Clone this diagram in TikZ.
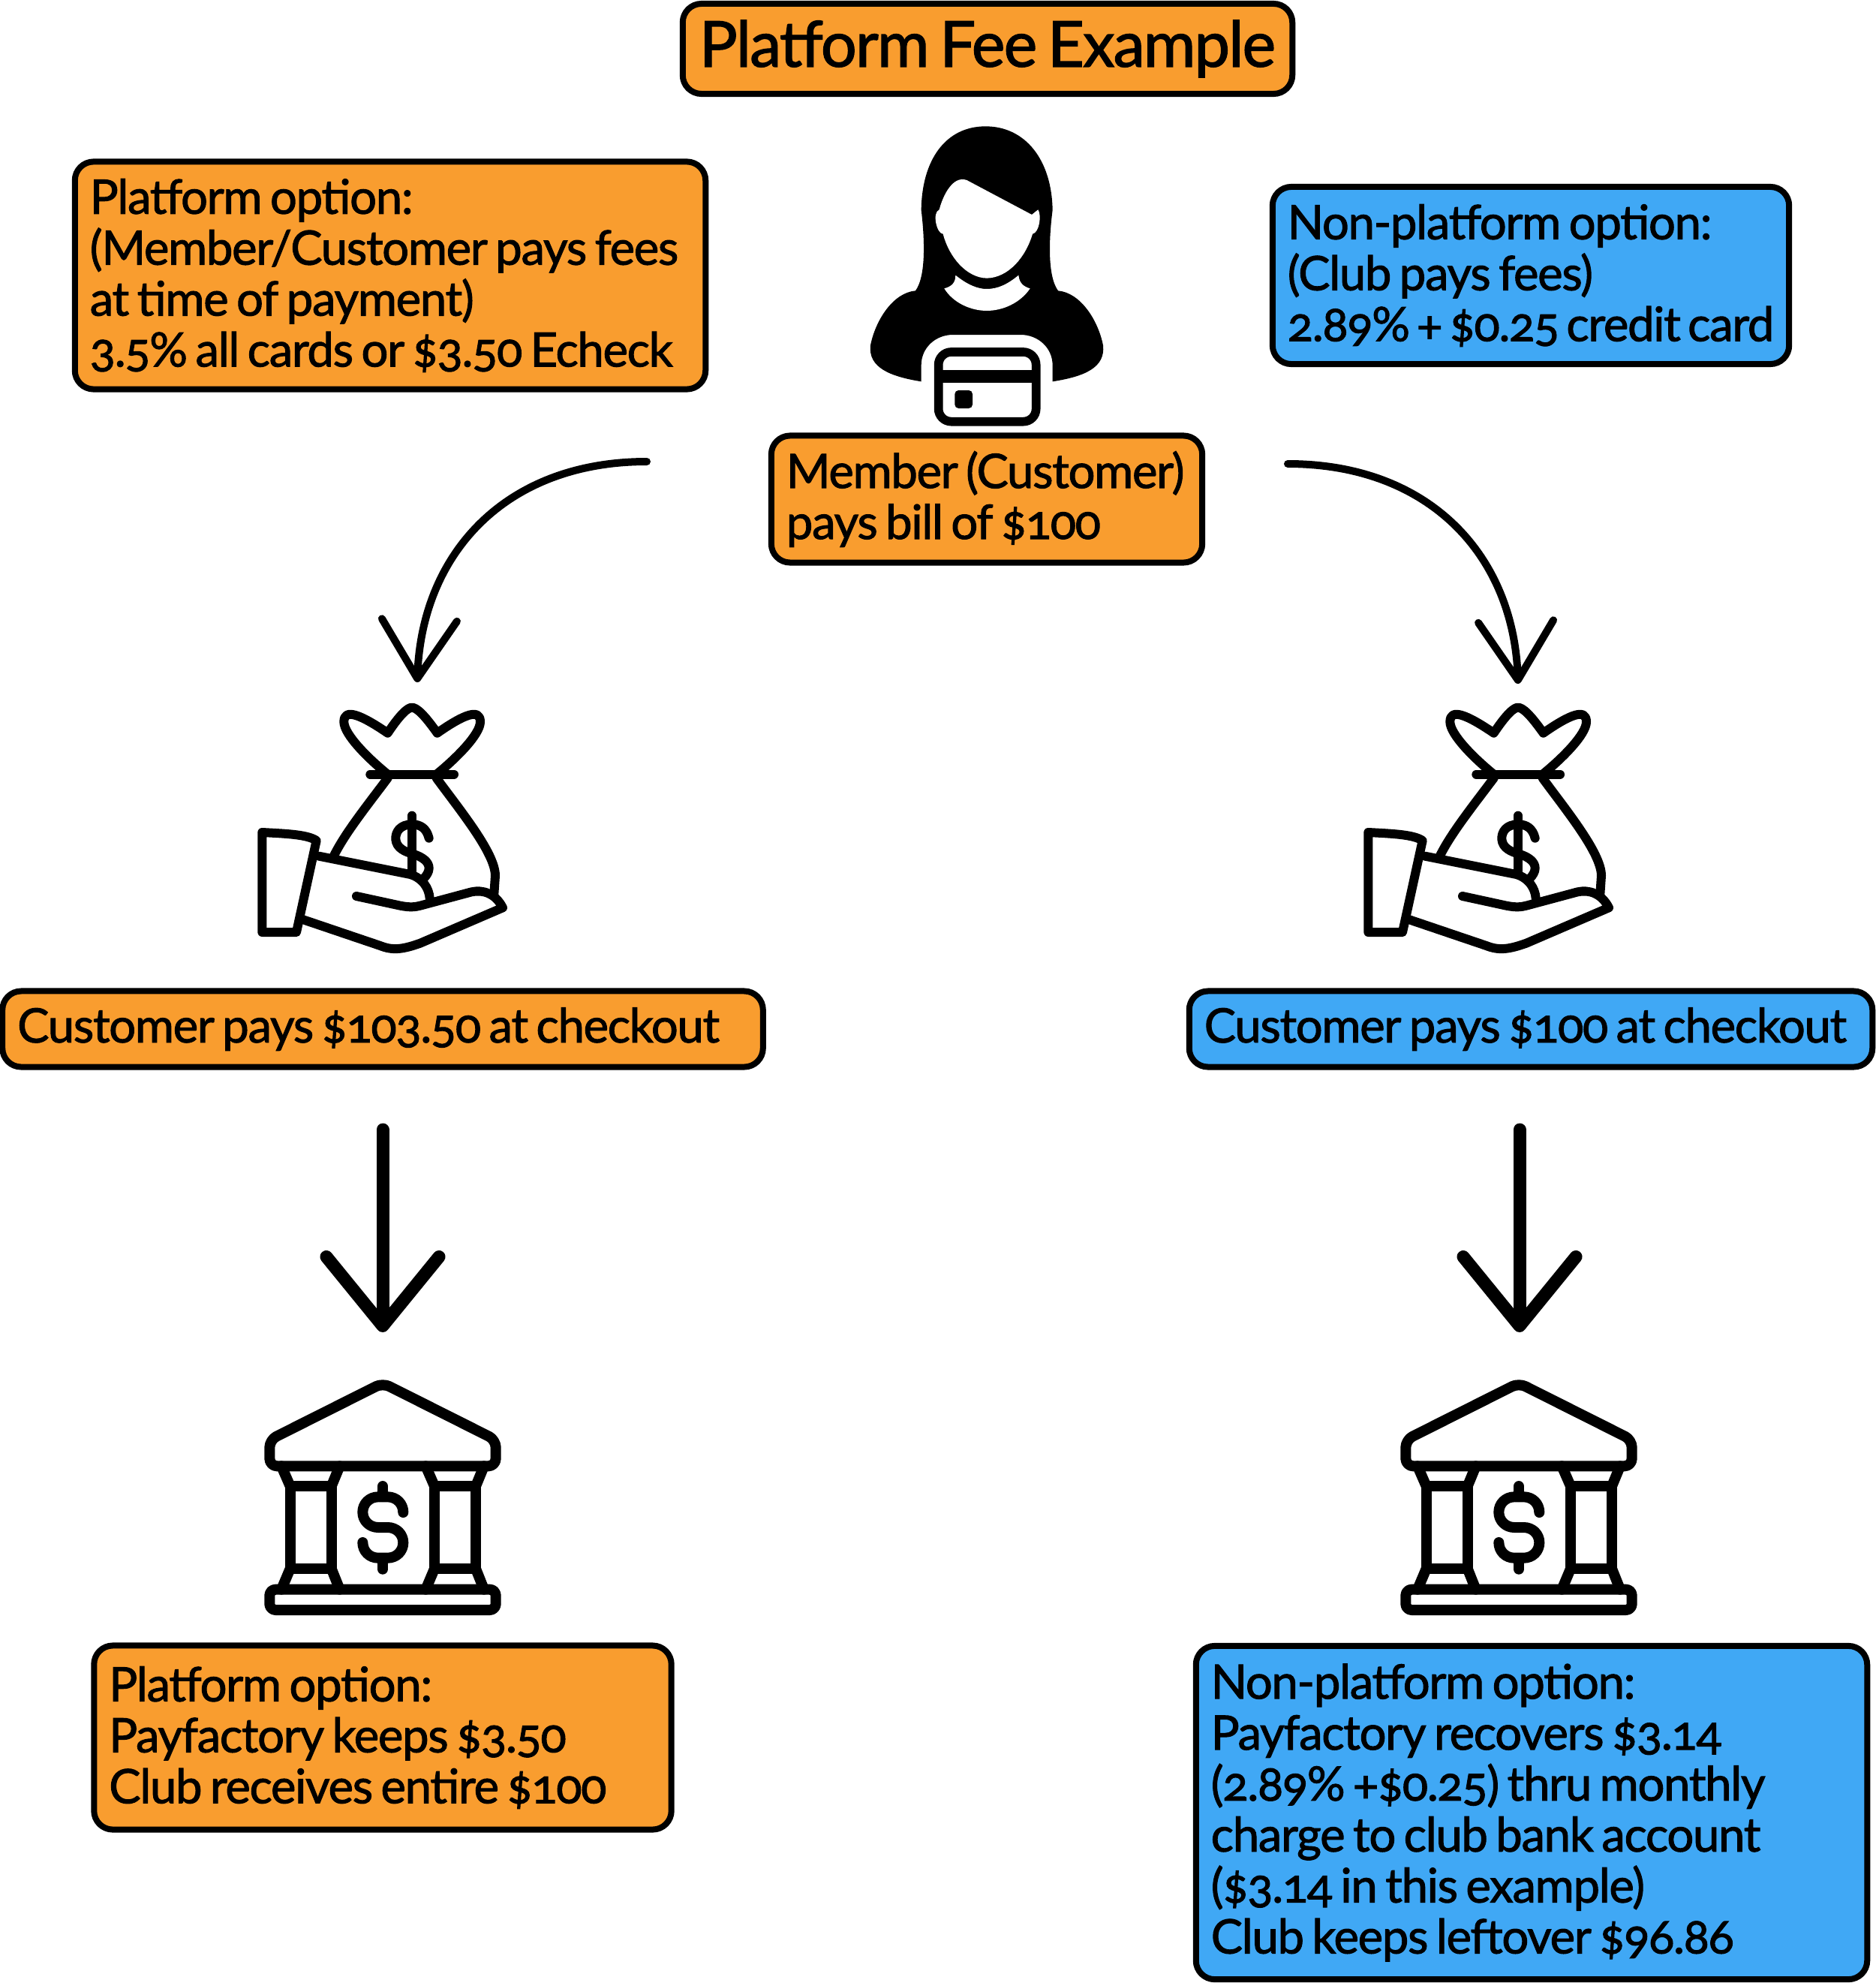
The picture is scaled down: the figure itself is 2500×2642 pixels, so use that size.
\documentclass[tikz,border=0pt]{standalone}
\usepackage{fontspec}
\usepackage{xcolor}
\usetikzlibrary{arrows.meta}
\setmainfont[Numbers=OldStyle,FakeBold=1.6,LetterSpace=-2,WordSpace=0.7]{Lato}
\definecolor{platform}{RGB}{249,157,47}
\definecolor{nonplatform}{RGB}{64,168,245}

\tikzset{
  feebox/.style={draw=black, line width=0.08cm, rounded corners=0.25cm, align=flush left, inner xsep=0.2cm, inner ysep=0pt,
    font=\fontsize{18pt}{19.3pt}\selectfont},
  thinarrow/.style={line width=0.1cm, line cap=round, -{Straight Barb[length=0.78cm,width=1cm,round]}},
  thickarrow/.style={line width=0.17cm, line cap=round, -{Straight Barb[length=0.92cm,width=1.5cm,round]}},
  pics/moneybag/.style={code={
    \begin{scope}[line width=0.12cm, line cap=round, line join=round]
      % Cuff
      \draw (88,567) -- (88,966) -- (225,966) -- (305,600) .. controls (270,575) and (180,572) .. (88,567);
      % Hand
      \draw (315,662) -- (680,735) .. controls (730,750) and (755,790) .. (758,830);
      \draw (465,822) -- (640,860) .. controls (680,868) and (700,865) .. (720,860) -- (925,805) .. controls (970,795) and (1020,810) .. (1050,868)
        -- (720,1010) .. controls (650,1035) and (610,1040) .. (560,1020) -- (250,915);
      % Bag
      \draw (375,660) .. controls (420,570) and (500,470) .. (590,350);
      \draw (785,350) .. controls (880,480) and (1020,650) .. (1020,740) -- (1015,815);
      \draw (520,335) -- (855,335);
      \draw (590,335) .. controls (510,270) and (415,175) .. (415,125) .. controls (415,70) and (480,95) .. (590,170)
        .. controls (640,95) and (670,68) .. (687,68) .. controls (705,68) and (735,95) .. (788,170)
        .. controls (895,95) and (960,70) .. (960,125) .. controls (960,175) and (865,270) .. (785,335);
      % Dollar
      \draw (687,500) -- (687,730);
      \draw (755,590) .. controls (745,550) and (720,535) .. (687,535) .. controls (640,535) and (620,565) .. (622,595)
        .. controls (625,630) and (660,645) .. (690,653) .. controls (730,665) and (755,685) .. (755,710) .. controls (755,725) and (745,740) .. (735,750);
    \end{scope}
  }},
  pics/bankhouse/.style={code={
    \begin{scope}[line width=0.14cm, line cap=round, line join=round]
      % Roof and base
      \draw[rounded corners=0.1cm] (540,68) -- (88,295) -- (88,400) -- (992,400) -- (992,295) -- cycle;
      \draw[rounded corners=0.08cm] (88,893) rectangle (992,975);
      % Columns
      \foreach \cx in {0,577} {
        \draw (170+\cx,480) rectangle (335+\cx,810);
        \draw (135+\cx,400) -- (170+\cx,480) (368+\cx,400) -- (335+\cx,480);
        \draw (170+\cx,810) -- (135+\cx,893) (335+\cx,810) -- (368+\cx,893);
      }
      % Dollar
      \draw (540,480) -- (540,522) (540,768) -- (540,812);
      \draw (622,585) .. controls (622,550) and (595,523) .. (560,523) -- (522,523) .. controls (487,523) and (460,550) .. (460,584)
        .. controls (460,618) and (487,645) .. (522,645) -- (560,645) .. controls (595,645) and (622,672) .. (622,706)
        .. controls (622,740) and (595,767) .. (560,767) -- (522,767) .. controls (487,767) and (460,740) .. (460,705);
    \end{scope}
  }},
}

\begin{document}
\begin{tikzpicture}[x=0.01cm, y=-0.01cm]
  \useasboundingbox (0,0) rectangle (2500,2642);

  % Boxes
  \node[feebox, fill=platform, minimum width=8.12cm, minimum height=1.2cm, align=center, font=\fontsize{24pt}{28pt}\selectfont] (title) at (1316,65) {Platform Fee Example};
  \node[feebox, fill=platform, text width=8cm, minimum height=3.03cm] (platinfo) at (520,367) {Platform option:\\(Member/Customer pays fees\\at time of payment)\\3.5\% all cards or \$3.50 Echeck};
  \node[feebox, fill=nonplatform, text width=6.48cm, minimum height=2.36cm] (nonplatinfo) at (2040,367) {Non-platform option:\\(Club pays fees)\\2.89\% + \$0.25 credit card};
  \node[feebox, fill=platform, text width=5.34cm, minimum height=1.69cm] (member) at (1315,665) {Member (Customer)\\pays bill of \$100};
  \node[feebox, fill=platform, text width=9.73cm, minimum height=1.01cm] (platpay) at (510,1371) {Customer pays \$103.50 at checkout};
  \node[feebox, fill=nonplatform, text width=8.7cm, minimum height=1.01cm] (nonplatpay) at (2040,1371) {Customer pays \$100 at checkout};
  \node[feebox, fill=platform, text width=7.29cm, minimum height=2.45cm] (platresult) at (510,2315) {Platform option:\\Payfactory keeps \$3.50\\Club receives entire \$100};
  \node[feebox, fill=nonplatform, text width=8.54cm, minimum height=4.44cm] (nonplatresult) at (2041,2415) {Non-platform option:\\Payfactory recovers \$3.14\\(2.89\% +\$0.25) thru monthly\\charge to club bank account\\(\$3.14 in this example)\\Club keeps leftover \$96.86};

  % Member with card
  \begin{scope}[shift={(1100,140)}, scale=1/3]
    \fill[black] (640,85) .. controls (480,85) and (385,220) .. (383,420) .. controls (395,520) and (405,680) .. (360,742)
      .. controls (270,750) and (200,860) .. (180,960) .. controls (170,1050) and (260,1085) .. (383,1105) -- (383,1040)
      .. controls (383,970) and (440,918) .. (510,918) -- (780,918) .. controls (850,918) and (908,970) .. (908,1040) -- (908,1105)
      .. controls (1035,1085) and (1120,1050) .. (1110,960) .. controls (1090,860) and (1020,750) .. (930,742)
      .. controls (885,680) and (895,520) .. (908,420) .. controls (905,220) and (800,85) .. (640,85) -- cycle;
    \fill[white] (565,300) -- (825,438) -- (850,418) .. controls (865,440) and (855,510) .. (828,515)
      .. controls (800,610) and (730,690) .. (645,692) .. controls (565,690) and (495,610) .. (470,515)
      .. controls (445,515) and (425,430) .. (455,418) .. controls (470,360) and (510,280) .. (565,300) -- cycle;
    \fill[white] (520,680) .. controls (570,720) and (610,735) .. (645,735) .. controls (690,735) and (730,715) .. (772,680)
      .. controls (775,710) and (790,725) .. (818,733) .. controls (780,790) and (710,822) .. (645,822)
      .. controls (580,822) and (510,790) .. (475,733) .. controls (505,725) and (520,710) .. (520,680) -- cycle;
    \draw[line width=0.117cm, rounded corners=0.17cm] (452,987) rectangle (842,1265);
    \fill[black] (452,1058) rectangle (842,1110);
    \fill[black, rounded corners=0.05cm] (517,1140) rectangle (588,1212);
  \end{scope}

  % Arrow ends
  \coordinate (platfrom) at (862,615);
  \coordinate (platto) at (556,909);
  \coordinate (nonplatfrom) at (1716,618);
  \coordinate (nonplatto) at (2023,911);
  \coordinate (paidfrom) at (510,1505);
  \coordinate (paidto) at (510,1775);
  \coordinate (nonpaidfrom) at (2025,1505);
  \coordinate (nonpaidto) at (2025,1775);

  % Arrows
  \draw[thinarrow] (platfrom) .. controls +(-190,0) and +(6,-170) .. (platto);
  \draw[thinarrow] (nonplatfrom) .. controls +(190,0) and +(-6,-170) .. (nonplatto);
  \draw[thickarrow] (paidfrom) -- (paidto);
  \draw[thickarrow] (nonpaidfrom) -- (nonpaidto);

  % Icons
  \pic[shift={(320,920)}, scale=1/3] {moneybag};
  \pic[shift={(1794,920)}, scale=1/3] {moneybag};
  \pic[shift={(330,1820)}, scale=1/3] {bankhouse};
  \pic[shift={(1844,1820)}, scale=1/3] {bankhouse};
\end{tikzpicture}
\end{document}
